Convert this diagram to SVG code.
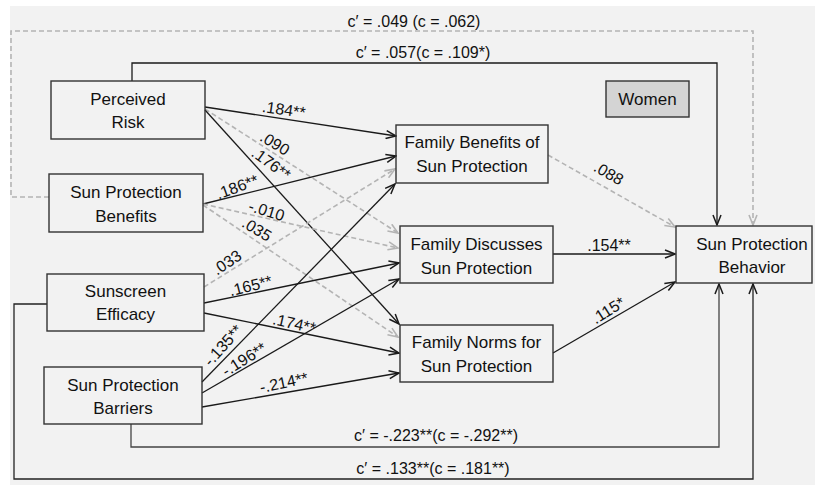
<svg xmlns="http://www.w3.org/2000/svg" width="815" height="485" viewBox="0 0 815 485">
<defs>
<style>
.box{fill:none;stroke:#333333;stroke-width:1.4}
.t{font-family:"Liberation Sans",Arial,sans-serif;font-size:17px;fill:#111111;text-anchor:middle}
.l{font-family:"Liberation Sans",Arial,sans-serif;font-size:16px;fill:#111111;text-anchor:middle}
.s{fill:none;stroke:#1a1a1a;stroke-width:1.3;marker-end:url(#ab)}
.d{fill:none;stroke:#b4b4b4;stroke-width:1.6;stroke-dasharray:5 3;marker-end:url(#ag)}
</style>
<marker id="ab" markerUnits="userSpaceOnUse" markerWidth="12" markerHeight="10" viewBox="0 0 12 10" refX="11" refY="5" orient="auto"><path d="M1,1 L11,5 L1,9" fill="none" stroke="#1a1a1a" stroke-width="1.5"/></marker>
<marker id="ag" markerUnits="userSpaceOnUse" markerWidth="12" markerHeight="10" viewBox="0 0 12 10" refX="11" refY="5" orient="auto"><path d="M1,1 L11,5 L1,9" fill="none" stroke="#b4b4b4" stroke-width="1.6"/></marker>
</defs>
<rect x="0" y="0" width="815" height="485" fill="#ffffff"/>
<rect x="10" y="6" width="805" height="479" fill="#f2f2f2"/>

<g id="connectors">
<path class="d" d="M49,197 H11 V31 H753 V225"/>
<path class="s" d="M132,81 V63 H717 V225"/>
<path class="s" d="M131,424 V447 H719 V284" style="stroke:#444"/>
<path class="s" d="M47,304 H14 V479 H753 V284" style="stroke:#222"/>
<line class="s" x1="205" y1="107" x2="396" y2="136"/>
<line class="d" x1="205" y1="109" x2="398" y2="233"/>
<line class="s" x1="205" y1="110" x2="399" y2="324"/>
<line class="s" x1="203" y1="204" x2="396" y2="156"/>
<line class="d" x1="203" y1="204" x2="398" y2="248"/>
<line class="d" x1="203" y1="205" x2="398" y2="337"/>
<line class="d" x1="204" y1="287" x2="395" y2="169"/>
<line class="s" x1="204" y1="303" x2="399" y2="263"/>
<line class="s" x1="204" y1="313" x2="399" y2="353"/>
<line class="s" x1="202" y1="382" x2="395" y2="184"/>
<line class="s" x1="202" y1="393" x2="399" y2="279"/>
<line class="s" x1="202" y1="407" x2="399" y2="373"/>
<line class="d" x1="548" y1="155" x2="675" y2="227"/>
<line class="s" x1="553" y1="254" x2="675" y2="254"/>
<line class="s" x1="553" y1="353" x2="675" y2="282"/>
</g>

<g id="labels">
<text class="l" x="414" y="27">c′ = .049 (c = .062)</text>
<text class="l" x="423" y="58">c′ = .057(c = .109*)</text>
<text class="l" x="436" y="441">c′ = -.223**(c = -.292**)</text>
<text class="l" x="433" y="474">c′ = .133**(c = .181**)</text>
<text class="l" transform="translate(283,115) rotate(8.6)">.184**</text>
<text class="l" transform="translate(272,148) rotate(31)">.090</text>
<text class="l" transform="translate(268,168) rotate(36)">.176**</text>
<text class="l" transform="translate(239,192) rotate(-20)">.186**</text>
<text class="l" transform="translate(265,216) rotate(17)">-.010</text>
<text class="l" transform="translate(254,234) rotate(31)">.035</text>
<text class="l" transform="translate(230,267) rotate(-34)">.033</text>
<text class="l" transform="translate(252,291) rotate(-14)">.165**</text>
<text class="l" transform="translate(293,329) rotate(13)">.174**</text>
<text class="l" transform="translate(227,349) rotate(-48)">-.135**</text>
<text class="l" transform="translate(247,364) rotate(-32)">-.196**</text>
<text class="l" transform="translate(285,388) rotate(-12)">-.214**</text>
<text class="l" transform="translate(606,178) rotate(30)">.088</text>
<text class="l" x="609" y="251">.154**</text>
<text class="l" transform="translate(611,315) rotate(-32)">.115*</text>
</g>

<g id="women">
<rect x="606" y="81" width="83" height="36" fill="#d4d4d4" stroke="#333333" stroke-width="1.4"/>
<text class="t" x="647.5" y="105">Women</text>
</g>
<g id="perceived-risk">
<rect class="box" x="51" y="81" width="154" height="58"/>
<text class="t" x="128" y="105">Perceived</text>
<text class="t" x="128" y="128">Risk</text>
</g>
<g id="sun-protection-benefits">
<rect class="box" x="49" y="174" width="154" height="58"/>
<text class="t" x="126" y="198">Sun Protection</text>
<text class="t" x="126" y="222">Benefits</text>
</g>
<g id="sunscreen-efficacy">
<rect class="box" x="47" y="274" width="157" height="57"/>
<text class="t" x="125.5" y="297">Sunscreen</text>
<text class="t" x="125.5" y="320">Efficacy</text>
</g>
<g id="sun-protection-barriers">
<rect class="box" x="44" y="367" width="158" height="57"/>
<text class="t" x="123" y="391">Sun Protection</text>
<text class="t" x="123" y="414">Barriers</text>
</g>
<g id="family-benefits">
<rect class="box" x="396" y="125" width="152" height="58"/>
<text class="t" x="472" y="148">Family Benefits of</text>
<text class="t" x="472" y="172">Sun Protection</text>
</g>
<g id="family-discusses">
<rect class="box" x="400" y="226" width="153" height="57"/>
<text class="t" x="476.5" y="250">Family Discusses</text>
<text class="t" x="476.5" y="274">Sun Protection</text>
</g>
<g id="family-norms">
<rect class="box" x="400" y="325" width="153" height="57"/>
<text class="t" x="476.5" y="348">Family Norms for</text>
<text class="t" x="476.5" y="372">Sun Protection</text>
</g>
<g id="sun-protection-behavior">
<rect class="box" x="676" y="226" width="136" height="57"/>
<text class="t" x="752" y="250">Sun Protection</text>
<text class="t" x="752" y="273">Behavior</text>
</g>
</svg>
